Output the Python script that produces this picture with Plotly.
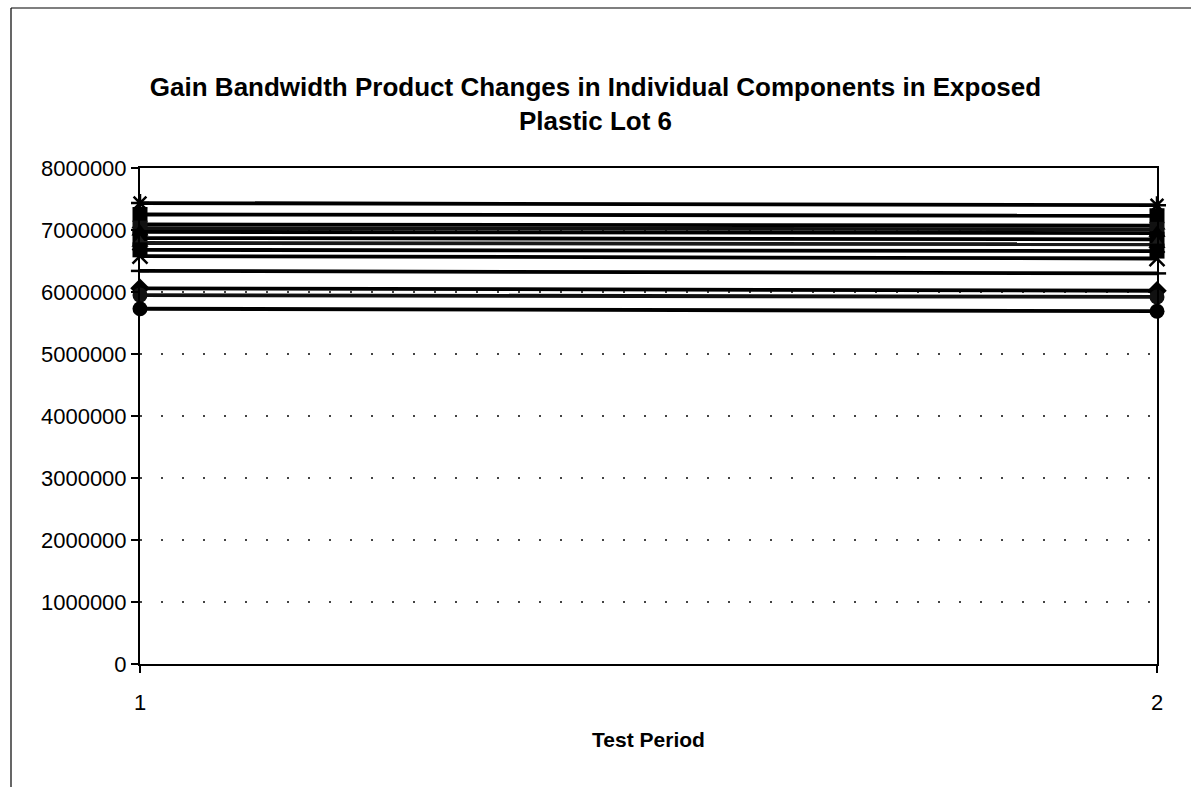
import plotly.graph_objects as go

# Test periods on the x axis
periods = [1, 2]

# Gain bandwidth product (Hz) per component, period 1 -> period 2
comp_01 = [7435000, 7400000]
comp_02 = [7250000, 7230000]
comp_03 = [7090000, 7070000]
comp_04 = [7030000, 7010000]
comp_05 = [6970000, 6950000]
comp_06 = [6870000, 6850000]
comp_07 = [6790000, 6770000]
comp_08 = [6680000, 6660000]
comp_09 = [6580000, 6540000]
comp_10 = [6340000, 6300000]
comp_11 = [6060000, 6020000]
comp_12 = [5950000, 5920000]
comp_13 = [5730000, 5690000]

series = [
    ("1", comp_01, "asterisk-open", "#000000"),
    ("2", comp_02, "square", "#000000"),
    ("3", comp_03, "triangle-up", "#000000"),
    ("4", comp_04, "square", "#111111"),
    ("5", comp_05, "triangle-up", "#000000"),
    ("6", comp_06, "square", "#000000"),
    ("7", comp_07, "triangle-up", "#1a1a1a"),
    ("8", comp_08, "square", "#000000"),
    ("9", comp_09, "x-thin-open", "#000000"),
    ("10", comp_10, "line-ew-open", "#000000"),
    ("11", comp_11, "diamond", "#000000"),
    ("12", comp_12, "circle", "#111111"),
    ("13", comp_13, "circle", "#000000"),
]

fig = go.Figure()
for name, vals, sym, col in series:
    open_sym = sym.endswith("open")
    size = 15
    if sym == "line-ew-open":
        size = 13
    fig.add_trace(go.Scatter(
        x=periods, y=vals, name=name, mode="lines+markers",
        line=dict(color=col, width=3.8),
        marker=dict(symbol=sym, size=size, color=col,
                    line=dict(color=col, width=2.5 if open_sym else 0)),
        cliponaxis=False,
    ))

font_family = "Liberation Sans, Arial, sans-serif"

fig.update_layout(
    width=1191, height=787,
    margin=dict(l=140, r=34, t=168, b=123),
    paper_bgcolor="white", plot_bgcolor="white",
    showlegend=False,
    font=dict(family=font_family, color="black"),
    title=dict(
        text="<b>Gain Bandwidth Product Changes in Individual Components in Exposed<br>Plastic Lot 6</b>",
        x=0.5, xref="container", xanchor="center",
        y=1 - 96 / 787, yref="container", yanchor="top",
        font=dict(size=26, family=font_family, color="black"),
    ),
    xaxis=dict(
        range=[1, 2], tickvals=[1, 2], ticktext=["1", "2"],
        showgrid=False, zeroline=False,
        showline=True, linecolor="black", linewidth=2, mirror=True,
        ticks="outside", ticklen=7, tickwidth=1.5, tickcolor="black",
        ticklabelstandoff=11,
        tickfont=dict(size=22, family=font_family),
        title=dict(text="<b>Test Period</b>", font=dict(size=21, family=font_family), standoff=18),
    ),
    yaxis=dict(
        range=[0, 8000000], dtick=1000000, tickformat="d",
        showgrid=True, gridcolor="#444444", gridwidth=1.5, griddash="2px,19px",
        zeroline=False,
        showline=True, linecolor="black", linewidth=2, mirror=True,
        ticks="outside", ticklen=7, tickwidth=1.5, tickcolor="black",
        tickfont=dict(size=22, family=font_family),
    ),
)

# Outer frame around the chart area (top and left edges)
x_left = (11 - 140) / 1017
y_top = (664 - 8) / 496
fig.add_shape(type="line", xref="paper", yref="paper",
              x0=x_left, x1=1.06, y0=y_top, y1=y_top,
              line=dict(color="black", width=1.2))
fig.add_shape(type="line", xref="paper", yref="paper",
              x0=x_left, x1=x_left, y0=y_top, y1=-0.3,
              line=dict(color="black", width=1.2))

fig.write_html("out.html")
